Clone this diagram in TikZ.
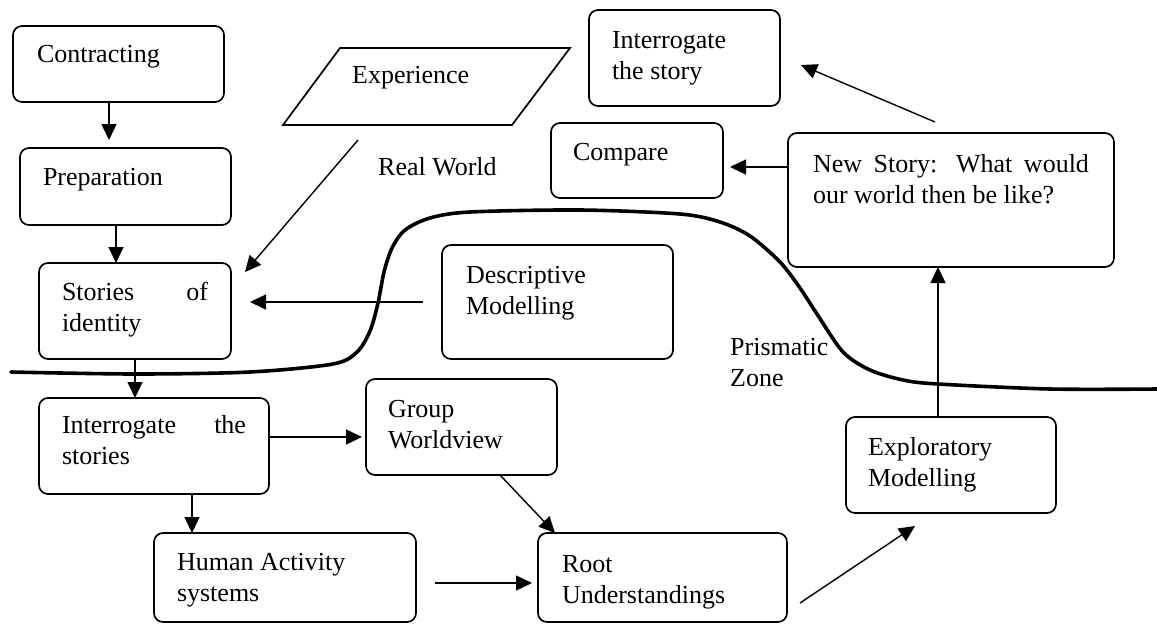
\documentclass[tikz,border=0pt]{standalone}
\usepackage{fontspec}
\setmainfont{Liberation Serif}
\usetikzlibrary{arrows.meta}
\newcommand{\bxt}[5]{\parbox[t][#2][t]{#1}{\hyphenpenalty=10000\exhyphenpenalty=10000\tolerance=10000\hbadness=10000\leftskip=#3\relax\rightskip=#3\relax\noindent\rule{0pt}{#4}#5}}
\tikzset{
  box/.style={draw, rounded corners=9pt, line width=1.7pt, inner sep=0pt, outer sep=0pt, anchor=north west},
  arr/.style={-{Triangle[length=16pt,width=15pt]}, line width=1.4pt},
  free/.style={inner sep=0pt, anchor=base west},
  zone/.style={line width=3.6pt, line cap=round}
}
\begin{document}
\begin{tikzpicture}[x=1pt,y=-1pt,font=\fontsize{26}{31}\selectfont]
\useasboundingbox (0,0) rectangle (1157,625);

% boxes
\node[box] (contract) at (13,26) {\bxt{211pt}{76pt}{24pt}{36pt}{Contracting}};
\node[box] (prep) at (20,148) {\bxt{211pt}{77pt}{23pt}{37pt}{Preparation}};
\node[box] (stories) at (39,263) {\bxt{192pt}{96pt}{23pt}{37pt}{Stories of\linebreak identity}};
\node[box] (intstories) at (39,398) {\bxt{230pt}{96pt}{23pt}{35pt}{Interrogate the\linebreak stories}};
\node[box] (human) at (154,533) {\bxt{262pt}{89pt}{23pt}{37pt}{Human Activity\\systems}};
\node[box] (group) at (366,379) {\bxt{191pt}{96pt}{22pt}{38pt}{Group\\Worldview}};
\node[box] (root) at (538,533) {\bxt{249pt}{89pt}{24pt}{39pt}{Root\\Understandings}};
\node[box] (descr) at (442,245) {\bxt{231pt}{114pt}{24pt}{38pt}{Descriptive\\Modelling}};
\node[box] (explor) at (846,417) {\bxt{210pt}{96pt}{22pt}{38pt}{Exploratory\\Modelling}};
\node[box] (newstory) at (788,133) {\bxt{326pt}{134pt}{25pt}{39pt}{New Story: What would\linebreak our world then be like?}};
\node[box] (compare) at (551,123) {\bxt{172pt}{75pt}{22pt}{37pt}{Compare}};
\node[box] (intstory) at (589,10) {\bxt{191pt}{96pt}{23pt}{38pt}{Interrogate\\the story}};

% experience parallelogram
\draw[line width=1.7pt] (283,125) -- (340,48) -- (570,48) -- (512,125) -- cycle;
\node[free] (exper) at (352,83) {Experience};

% free labels
\node[free] (real) at (378,175) {Real World};
\node[free] (prism) at (730,355) {\parbox[t]{120pt}{Prismatic\\Zone}};

% prismatic zone boundary
\draw[zone] plot[smooth, tension=0.5] coordinates {(11,372) (135,374) (250,372) (333,364) (357,352) (370,331) (378,303) (384,272) (392,248) (405,230) (430,218) (470,212) (580,210) (680,214) (720,222) (750,236) (780,262) (800,288) (817,314) (843,352) (870,370) (903,380) (938,384) (1050,389) (1157,389)};

% connector end points
\coordinate (a1) at (109,140);
\coordinate (a2) at (116,0);
\coordinate (a3) at (135,0);
\coordinate (a4) at (192,0);
\coordinate (a5) at (362,437);
\coordinate (b1) at (435,583);
\coordinate (b2) at (532,583);
\coordinate (c1) at (500,0);
\coordinate (c2) at (555,0);
\coordinate (d1) at (800,603);
\coordinate (d2) at (915,526);
\coordinate (e1) at (938,0);
\coordinate (f1) at (730,167);
\coordinate (g1) at (935,122);
\coordinate (g2) at (801,65);
\coordinate (h1) at (423,302);
\coordinate (h2) at (250,302);
\coordinate (k1) at (358,140);
\coordinate (k2) at (245,272);

% connectors
\draw[arr] (contract.south -| a1) -- (a1);
\draw[arr] (prep.south -| a2) -- (stories.north -| a2);
\draw[arr] (stories.south -| a3) -- (intstories.north -| a3);
\draw[arr] (intstories.south -| a4) -- (human.north -| a4);
\draw[arr] (intstories.east |- a5) -- (a5);
\draw[arr] (b1) -- (b2);
\draw[arr] (group.south -| c1) -- (root.north -| c2);
\draw[arr] (d1) -- (d2);
\draw[arr] (explor.north -| e1) -- (newstory.south -| e1);
\draw[arr] (newstory.west |- f1) -- (f1);
\draw[arr] (g1) -- (g2);
\draw[arr] (h1) -- (h2);
\draw[arr] (k1) -- (k2);
\end{tikzpicture}
\end{document}
